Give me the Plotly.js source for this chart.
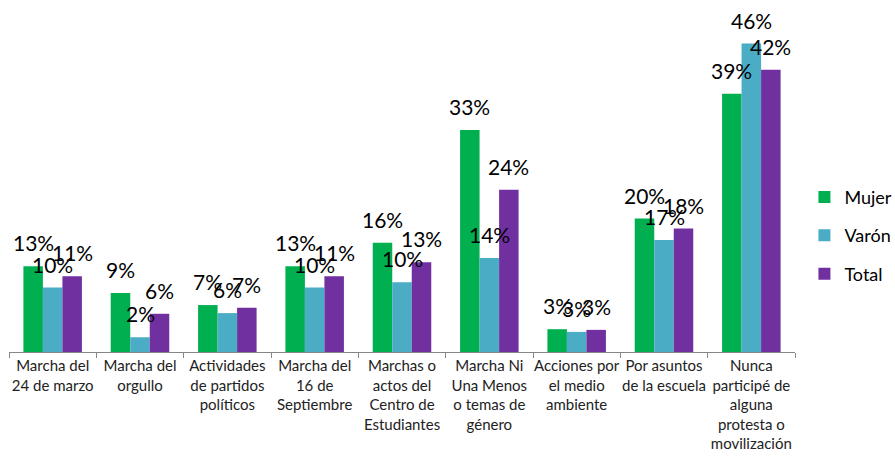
<!DOCTYPE html>
<html>
<head>
<meta charset="utf-8">
<script src="https://cdn.plot.ly/plotly-3.0.1.min.js"></script>
<style>html,body{margin:0;padding:0;background:#fff;}#chart{width:895px;height:459px;}</style>
</head>
<body>
<div id="chart"></div>
<script>
const categories = [
  "Marcha del<br>24 de marzo",
  "Marcha del<br>orgullo",
  "Actividades<br>de partidos<br>políticos",
  "Marcha del<br>16 de<br>Septiembre",
  "Marchas o<br>actos del<br>Centro de<br>Estudiantes",
  "Marcha Ni<br>Una Menos<br>o temas de<br>género",
  "Acciones por<br>el medio<br>ambiente",
  "Por asuntos<br>de la escuela",
  "Nunca<br>participé de<br>alguna<br>protesta o<br>movilización"
];
const mujer = [12.8, 8.8, 7.0, 12.8, 16.3, 33.1, 3.4, 19.9, 38.5];
const varon = [9.6, 2.2, 5.8, 9.6, 10.4, 14.0, 3.0, 16.7, 46.0];
const total = [11.3, 5.7, 6.6, 11.3, 13.4, 24.2, 3.3, 18.4, 42.1];
const seriesNames = ["Mujer", "Varón", "Total"];
const colors = ["#00B050", "#4BACC6", "#7030A0"];

const FONT = "Lato, 'Open Sans', sans-serif";
const seriesVals = [mujer, varon, total];

const traces = seriesVals.map((vals, i) => ({
  type: "bar",
  name: seriesNames[i],
  x: categories,
  y: vals,
  marker: {color: colors[i]},
  legendgroup: "g" + i,
  hoverinfo: "skip"
}));

const barPx = 19.5;
const annotations = [];
seriesVals.forEach((vals, i) => {
  vals.forEach((v, j) => {
    annotations.push({
      x: categories[j], y: v, xref: "x", yref: "y",
      text: Math.round(v) + "%",
      showarrow: false,
      xshift: (i - 1) * barPx,
      yanchor: "bottom",
      yshift: 9,
      font: {family: FONT, size: 21, color: "#000"}
    });
  });
});

const layout = {
  width: 895, height: 459,
  margin: {l: 9, r: 100, t: 10, b: 107, autoexpand: false},
  paper_bgcolor: "#fff", plot_bgcolor: "#fff",
  barmode: "group",
  bargap: 0.33,
  bargroupgap: 0,
  font: {family: FONT, color: "#000"},
  xaxis: {
    showline: true, linecolor: "#868686", linewidth: 1,
    ticks: "outside", tickson: "boundaries", ticklen: 5, tickcolor: "#868686",
    tickfont: {family: FONT, size: 15, color: "#222"},
    tickangle: 0,
    showgrid: false, zeroline: false, automargin: false
  },
  yaxis: {
    range: [0, 51], visible: false, showgrid: false, zeroline: false
  },
  showlegend: true,
  legend: {
    x: 1.012, xanchor: "left", y: 0.34, yanchor: "middle",
    font: {family: FONT, size: 18, color: "#000"},
    tracegroupgap: 12,
    itemwidth: 30,
    bgcolor: "rgba(0,0,0,0)"
  },
  annotations: annotations
};

Plotly.newPlot("chart", traces, layout, {displayModeBar: false, staticPlot: true});
</script>
</body>
</html>
